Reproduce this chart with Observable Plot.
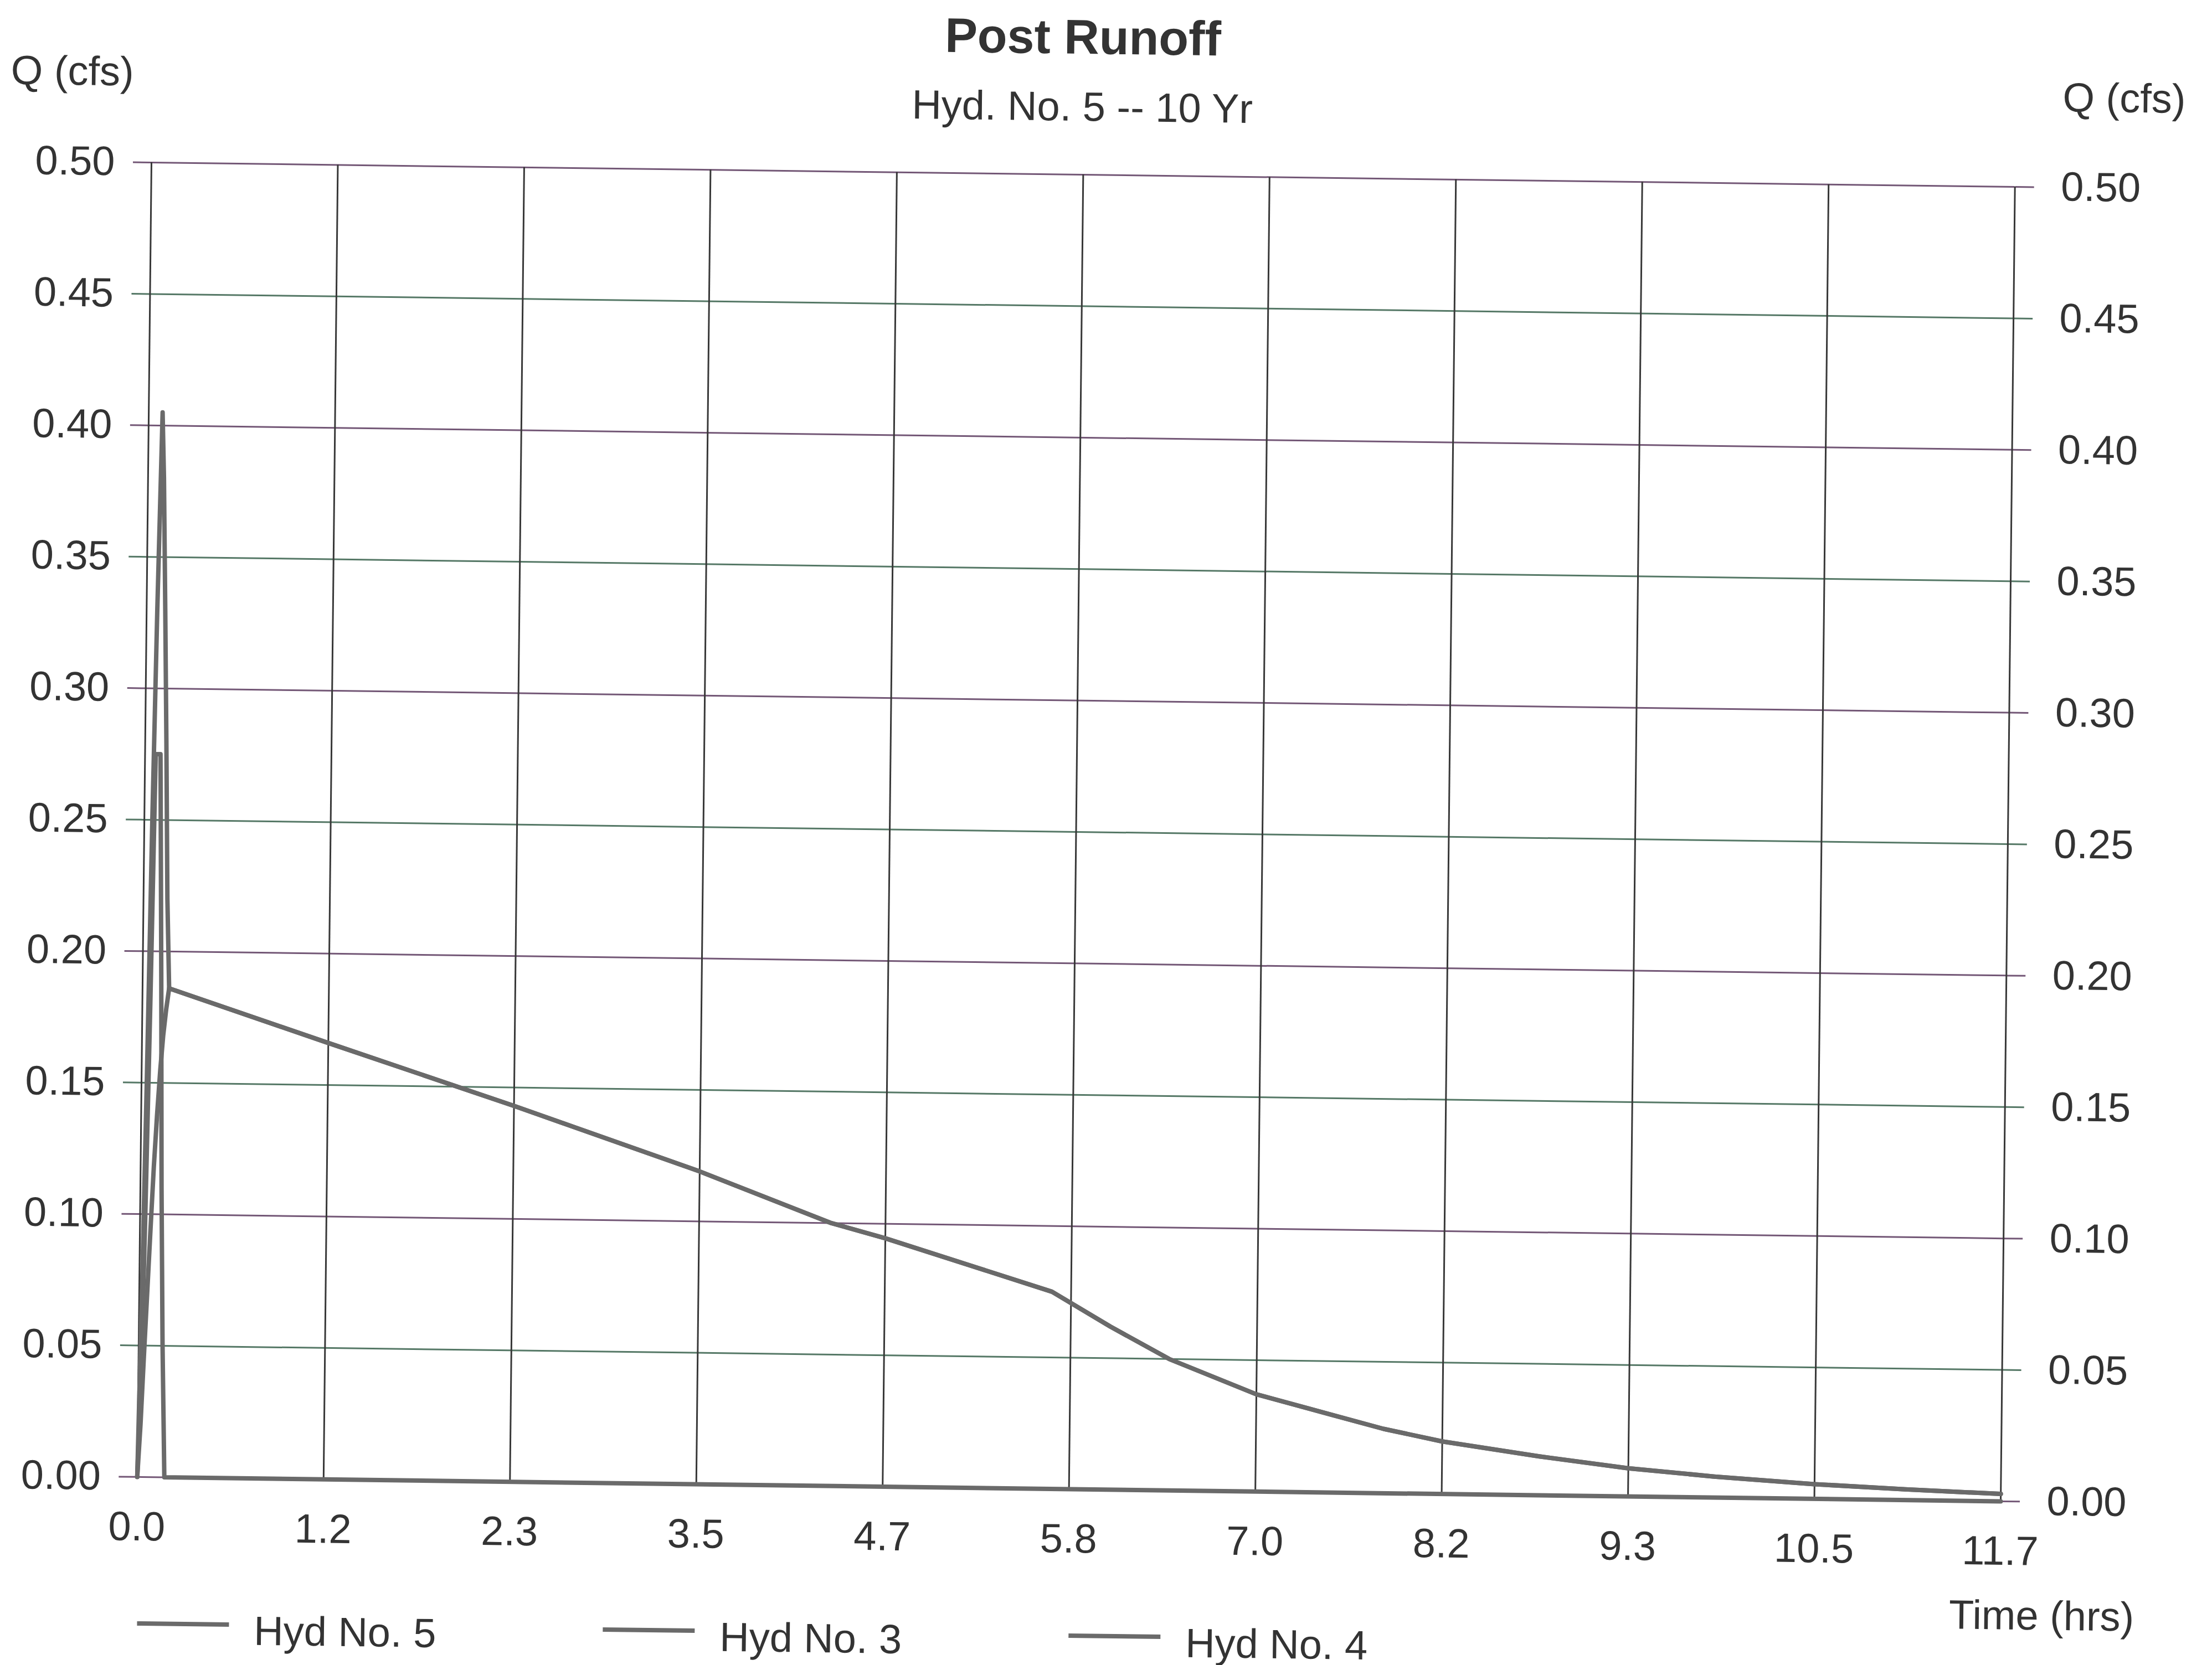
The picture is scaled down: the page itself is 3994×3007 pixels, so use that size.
<!DOCTYPE html>
<html><head><meta charset="utf-8">
<script src="https://cdn.jsdelivr.net/npm/d3@7"></script>
<script src="https://cdn.jsdelivr.net/npm/@observablehq/plot@0.6"></script>
<style>
html,body{margin:0;padding:0;background:#fff;overflow:hidden;width:3994px;height:3007px}
#page{position:absolute;left:0;top:0;width:3994px;height:3007px;transform-origin:273px 293px;transform:matrix(0.99991,0.01309,-0.01082,0.99994,0,0);font-family:"Liberation Sans",Arial,Helvetica,sans-serif;color:#333}
.t{position:absolute;white-space:nowrap;line-height:1}
#header{position:absolute;left:0;top:0;width:3994px;height:220px}
#chart{position:absolute;left:0;top:220px}
#legend{position:absolute;left:0;top:2906px;width:3994px;height:80px}
.lg-line{position:absolute;height:8px;width:166px;background:#6a6a6a;top:22px}
</style></head><body>
<div id="page">
  <div id="header">
    <div class="t" style="font-weight:bold;font-size:88px;left:0;width:3906px;text-align:center;top:1px">Post Runoff</div>
    <div class="t" style="font-size:74px;left:0;width:3906px;text-align:center;top:134px">Hyd. No. 5 -- 10 Yr</div>
    <div class="t" style="font-size:74px;left:18px;top:93px">Q (cfs)</div>
    <div class="t" style="font-size:74px;left:3723px;top:94px">Q (cfs)</div>
  </div>
  <div id="chart"></div>
  <div id="legend"></div>
</div>
<script>
// ---- data (time in hrs, Q in cfs) ----
const hyd5Time = [0, 0.017, 0.033, 0.05, 0.067, 0.087, 0.10, 0.117, 0.133, 0.15, 0.167, 1.17, 2.34, 3.51, 4.34, 4.68, 5.73, 6.10, 6.47, 7.02, 7.50, 7.82, 8.19, 8.80, 9.36, 9.90, 10.53, 11.10, 11.70];
const hyd5Q    = [0, 0.07, 0.15, 0.25, 0.33, 0.405, 0.38, 0.33, 0.28, 0.22, 0.186, 0.166, 0.143, 0.119, 0.100, 0.0945, 0.075, 0.062, 0.050, 0.037, 0.0295, 0.0245, 0.020, 0.0148, 0.0107, 0.0080, 0.0056, 0.0041, 0.0028];

const hyd3Time = [0, 0.017, 0.033, 0.05, 0.067, 0.083, 0.097, 0.117, 0.133, 0.15, 0.17, 11.70];
const hyd3Q    = [0, 0.04, 0.10, 0.18, 0.275, 0.275, 0.275, 0.19, 0.11, 0.05, 0, 0];

const hyd4Time = [0, 0.017, 0.033, 0.05, 0.067, 0.083, 0.10, 0.117, 0.133, 0.15, 0.167, 1.17, 2.34, 3.51, 4.34, 4.68, 5.73, 6.10, 6.47, 7.02, 7.50, 7.82, 8.19, 8.80, 9.36, 9.90, 10.53, 11.10, 11.70];
const hyd4Q    = [0, 0.02, 0.045, 0.07, 0.095, 0.118, 0.138, 0.155, 0.168, 0.178, 0.186, 0.166, 0.143, 0.119, 0.100, 0.0945, 0.075, 0.062, 0.050, 0.037, 0.0295, 0.0245, 0.020, 0.0148, 0.0107, 0.0080, 0.0056, 0.0041, 0.0028];

const xTicks = [0, 1.17, 2.34, 3.51, 4.68, 5.85, 7.02, 8.19, 9.36, 10.53, 11.7];
const xTickLabels = ["0.0", "1.2", "2.3", "3.5", "4.7", "5.8", "7.0", "8.2", "9.3", "10.5", "11.7"];
const yTicks = [0, 0.05, 0.10, 0.15, 0.20, 0.25, 0.30, 0.35, 0.40, 0.45, 0.50];
const yTickLabels = ["0.00", "0.05", "0.10", "0.15", "0.20", "0.25", "0.30", "0.35", "0.40", "0.45", "0.50"];

const seriesNames = ["Hyd No. 5", "Hyd No. 3", "Hyd No. 4"];

// ---- styles ----
const FONT = '"Liberation Sans", Arial, Helvetica, sans-serif';
const TEXT = "#333";
const LINE = "#6a6a6a";
const VGRID = "#383838";
const PURPLE = "#735776";
const TEAL = "#557866";

const rows = (ts, qs) => ts.map((t, i) => ({t, q: qs[i]}));
const hyd5 = rows(hyd5Time, hyd5Q);
const hyd3 = rows(hyd3Time, hyd3Q);
const hyd4 = rows(hyd4Time, hyd4Q);

const yPurple = yTicks.filter((d, i) => i % 2 === 0);
const yTeal = yTicks.filter((d, i) => i % 2 === 1);
const yFmt = d => yTickLabels[yTicks.indexOf(d)];
const xFmt = d => xTickLabels[xTicks.indexOf(d)];

const chart = Plot.plot({
  width: 3994,
  height: 2686,
  marginTop: 73,
  marginBottom: 239,
  marginLeft: 273,
  marginRight: 356,
  x: {domain: [0, 11.7], label: null},
  y: {domain: [0, 0.5], label: null},
  style: {fontFamily: FONT, fontSize: "74px", color: TEXT, background: "transparent", overflow: "visible"},
  marks: [
    Plot.gridY(yPurple, {stroke: PURPLE, strokeOpacity: 1, strokeWidth: 3}),
    Plot.gridY(yTeal, {stroke: TEAL, strokeOpacity: 1, strokeWidth: 3}),
    Plot.axisY(yPurple, {anchor: "left", tickSize: 33, stroke: PURPLE, strokeWidth: 3, fill: "none", label: null}),
    Plot.axisY(yTeal, {anchor: "left", tickSize: 33, stroke: TEAL, strokeWidth: 3, fill: "none", label: null}),
    Plot.axisY(yPurple, {anchor: "right", tickSize: 34, stroke: PURPLE, strokeWidth: 3, fill: "none", label: null}),
    Plot.axisY(yTeal, {anchor: "right", tickSize: 34, stroke: TEAL, strokeWidth: 3, fill: "none", label: null}),
    Plot.gridX(xTicks, {stroke: VGRID, strokeOpacity: 1, strokeWidth: 3}),
    Plot.axisY(yTicks, {anchor: "left", tickSize: 0, tickPadding: 66, tickFormat: yFmt, fontSize: 74, fill: TEXT, label: null}),
    Plot.axisY(yTicks, {anchor: "right", tickSize: 0, tickPadding: 83, tickFormat: yFmt, fontSize: 74, fill: TEXT, label: null}),
    Plot.axisX(xTicks, {anchor: "bottom", tickSize: 0, tickPadding: 62, tickFormat: xFmt, fontSize: 74, fill: TEXT, label: null}),
    Plot.line(hyd3, {x: "t", y: "q", stroke: LINE, strokeWidth: 8}),
    Plot.line(hyd4, {x: "t", y: "q", stroke: LINE, strokeWidth: 8}),
    Plot.line(hyd5, {x: "t", y: "q", stroke: LINE, strokeWidth: 8}),
    Plot.text(["Time (hrs)"], {text: d => d, frameAnchor: "bottom-right", textAnchor: "end", lineAnchor: "bottom", dx: 243, dy: 231, fontSize: 74, fill: TEXT})
  ]
});
document.getElementById("chart").appendChild(chart);

// ---- legend ----
const legend = document.getElementById("legend");
seriesNames.forEach((name, i) => {
  const x0 = 276 + i * 841;
  const ln = document.createElement("div");
  ln.className = "lg-line";
  ln.style.left = x0 + "px";
  legend.appendChild(ln);
  const tx = document.createElement("div");
  tx.className = "t";
  tx.style.fontSize = "74px";
  tx.style.left = (x0 + 211) + "px";
  tx.style.top = "0px";
  tx.textContent = name;
  legend.appendChild(tx);
});
</script>
</body></html>
